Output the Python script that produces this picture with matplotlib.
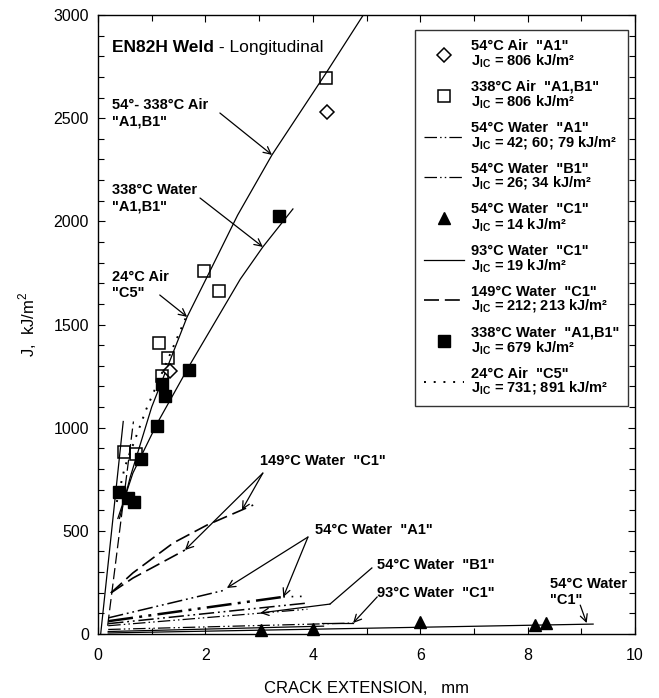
import matplotlib
matplotlib.use('Agg')
import matplotlib.pyplot as plt
from matplotlib.lines import Line2D
from matplotlib.ticker import MultipleLocator

plt.rcParams['font.family'] = 'Liberation Sans'
plt.rcParams['mathtext.fontset'] = 'custom'
plt.rcParams['mathtext.rm'] = 'Liberation Sans'
plt.rcParams['mathtext.bf'] = 'Liberation Sans:bold'

# ---- values ----
# symbols
air54_x = [1.34, 4.26]
air54_y = [1275, 2530]
air338_x = [0.48, 0.71, 1.14, 1.19, 1.30, 1.97, 2.25, 4.25]
air338_y = [882, 872, 1410, 1251, 1338, 1760, 1663, 2695]
water338_x = [0.39, 0.56, 0.67, 0.80, 1.10, 1.19, 1.25, 1.69, 3.37]
water338_y = [688, 659, 640, 848, 1008, 1212, 1154, 1280, 2026]
c1_54_x = [3.04, 4.00, 6.00, 8.14, 8.34]
c1_54_y = [19, 24, 58, 44, 53]

# fitted curves
air_fit_x = [0.40, 0.60, 1.00, 1.66, 2.03, 2.60, 3.24, 4.25, 4.94]
air_fit_y = [560, 760, 1100, 1537, 1730, 2030, 2322, 2720, 3000]
water_fit_x = [0.37, 0.65, 1.10, 1.70, 2.65, 3.07, 3.63]
water_fit_y = [560, 780, 1020, 1300, 1720, 1876, 2060]
c5_x = [0.35, 0.50, 0.90, 1.30, 1.68]
c5_y = [640, 810, 1090, 1330, 1560]
blunt_solid_x = [0.05, 0.47]
blunt_solid_y = [0, 1030]
blunt_dash_x = [0.18, 0.66]
blunt_dash_y = [40, 1030]
c1_149a_x = [0.24, 0.65, 1.40, 2.03, 2.89]
c1_149a_y = [199, 296, 441, 528, 625]
c1_149b_x = [0.24, 0.65, 1.10, 1.62]
c1_149b_y = [199, 271, 334, 407]
a1_54_1_x = [0.19, 2.37]
a1_54_1_y = [78, 213]
a1_54_2_x = [0.19, 3.45]
a1_54_2_y = [62, 180]
a1_54_2_tail_x = [3.45, 3.90]
a1_54_2_tail_y = [180, 183]
a1_54_3_x = [0.19, 3.90]
a1_54_3_y = [50, 150]
b1_54_1_x = [0.19, 3.90]
b1_54_1_y = [40, 120]
b1_54_2_x = [0.19, 4.75]
b1_54_2_y = [22, 53]
c1_93_x = [0.19, 4.20]
c1_93_y = [12, 38]
c1_54_fit_x = [0.19, 9.22]
c1_54_fit_y = [5, 48]

legend_labels = [
    '54°C Air  "A1"\nJ$_{\\mathbf{IC}}$ = 806 kJ/m²',
    '338°C Air  "A1,B1"\nJ$_{\\mathbf{IC}}$ = 806 kJ/m²',
    '54°C Water  "A1"\nJ$_{\\mathbf{IC}}$ = 42; 60; 79 kJ/m²',
    '54°C Water  "B1"\nJ$_{\\mathbf{IC}}$ = 26; 34 kJ/m²',
    '54°C Water  "C1"\nJ$_{\\mathbf{IC}}$ = 14 kJ/m²',
    '93°C Water  "C1"\nJ$_{\\mathbf{IC}}$ = 19 kJ/m²',
    '149°C Water  "C1"\nJ$_{\\mathbf{IC}}$ = 212; 213 kJ/m²',
    '338°C Water  "A1,B1"\nJ$_{\\mathbf{IC}}$ = 679 kJ/m²',
    '24°C Air  "C5"\nJ$_{\\mathbf{IC}}$ = 731; 891 kJ/m²',
]

ddot = (0, (10, 2.5, 1.2, 2.5, 1.2, 2.5))
dash = (0, (9, 3.5))
dots = (0, (1, 4))
lw = 0.9

fig = plt.figure(figsize=(6.59, 6.98), dpi=100)
ax = fig.add_axes([0.1487, 0.0917, 0.8149, 0.8868])

ax.plot(air_fit_x, air_fit_y, 'k-', lw=lw)
ax.plot(water_fit_x, water_fit_y, 'k-', lw=lw)
ax.plot(c5_x, c5_y, color='k', ls=dots, lw=1.4)
ax.plot(blunt_solid_x, blunt_solid_y, 'k-', lw=lw)
ax.plot(blunt_dash_x, blunt_dash_y, color='k', ls=dash, lw=lw)
ax.plot(c1_149a_x, c1_149a_y, color='k', ls=dash, lw=1.2)
ax.plot(c1_149b_x, c1_149b_y, color='k', ls=dash, lw=1.2)
ax.plot(a1_54_1_x, a1_54_1_y, color='k', ls=ddot, lw=1.1)
ax.plot(a1_54_2_x, a1_54_2_y, color='k', ls=ddot, lw=1.8)
ax.plot(a1_54_2_tail_x, a1_54_2_tail_y, color='k', ls=dots, lw=1.2)
ax.plot(a1_54_3_x, a1_54_3_y, color='k', ls=ddot, lw=1.1)
ax.plot(b1_54_1_x, b1_54_1_y, color='k', ls=ddot, lw=lw)
ax.plot(b1_54_2_x, b1_54_2_y, color='k', ls=ddot, lw=lw)
ax.plot(c1_93_x, c1_93_y, 'k-', lw=lw)
ax.plot(c1_54_fit_x, c1_54_fit_y, 'k-', lw=lw)

ax.plot(air54_x, air54_y, 'D', ms=7.5, mfc='white', mec='k', mew=1.1, zorder=5)
ax.plot(air338_x, air338_y, 's', ms=8.5, mfc='none', mec='k', mew=1.1, zorder=5)
ax.plot(water338_x, water338_y, 's', ms=8.5, mfc='k', mec='k', zorder=5)
ax.plot(c1_54_x, c1_54_y, '^', ms=9, mfc='k', mec='k', zorder=5, clip_on=False)

# legend
handles = [
    Line2D([], [], ls='none', marker='D', ms=7.5, mfc='white', mec='k', mew=1.1),
    Line2D([], [], ls='none', marker='s', ms=8.5, mfc='white', mec='k', mew=1.1),
    Line2D([], [], color='k', ls=ddot, lw=lw),
    Line2D([], [], color='k', ls=ddot, lw=lw),
    Line2D([], [], ls='none', marker='^', ms=9, mfc='k', mec='k'),
    Line2D([], [], color='k', ls='-', lw=lw),
    Line2D([], [], color='k', ls=dash, lw=1.2),
    Line2D([], [], ls='none', marker='s', ms=8.5, mfc='k', mec='k'),
    Line2D([], [], color='k', ls=dots, lw=1.4),
]
leg = ax.legend(handles, legend_labels, loc='upper right', bbox_to_anchor=(0.987, 0.976),
                borderaxespad=0, frameon=True, fancybox=False, edgecolor='k',
                prop={'size': 10.5, 'weight': 'bold'}, handlelength=2.75,
                handletextpad=0.45, borderpad=0.6, labelspacing=0.69)
leg.get_frame().set_linewidth(1.0)
for t in leg.get_texts():
    t.set_linespacing(0.95)

# annotations
af = dict(fontsize=10.5, fontweight='bold', ha='left', va='top')
ap = dict(arrowstyle='->', lw=0.9, color='k', shrinkA=0, shrinkB=0, mutation_scale=13)

title = ax.text(0.26, 2880, 'EN82H Weld', fontsize=12.5, fontweight='bold', ha='left', va='top')
ax.annotate(' - Longitudinal', xy=(1, 0), xycoords=title, fontsize=12.5, ha='left', va='bottom')

ax.text(0.26, 2598, '54°- 338°C Air\n"A1,B1"', **af)
ax.annotate('', xy=(3.24, 2322), xytext=(2.27, 2525), arrowprops=ap)

ax.text(0.26, 2186, '338°C Water\n"A1,B1"', **af)
ax.annotate('', xy=(3.07, 1876), xytext=(1.90, 2113), arrowprops=ap)

ax.text(0.26, 1764, '24°C Air\n"C5"', **af)
ax.annotate('', xy=(1.66, 1537), xytext=(1.15, 1643), arrowprops=ap)

ax.text(3.02, 870, '149°C Water  "C1"', **af)
ax.annotate('', xy=(2.68, 601), xytext=(3.07, 780), arrowprops=ap)
ax.annotate('', xy=(1.62, 407), xytext=(3.07, 780), arrowprops=ap)

ax.text(4.04, 540, '54°C Water  "A1"', **af)
ax.annotate('', xy=(2.40, 223), xytext=(3.91, 470), arrowprops=ap)
ax.annotate('', xy=(3.45, 179), xytext=(3.91, 470), arrowprops=ap)

ax.text(5.2, 370, '54°C Water  "B1"', **af)
ax.plot([5.10, 4.32], [320, 145], 'k-', lw=0.9)
ax.annotate('', xy=(3.02, 102), xytext=(4.32, 145), arrowprops=ap)

ax.text(5.2, 235, '93°C Water  "C1"', **af)
ax.plot([4.17, 4.75], [53, 53], 'k-', lw=0.9)
ax.annotate('', xy=(4.75, 53), xytext=(5.2, 180), arrowprops=ap)

ax.text(8.42, 276, '54°C Water\n"C1"', **af)
ax.annotate('', xy=(9.10, 53), xytext=(8.98, 140), arrowprops=ap)

ax.set_xlim(0, 10)
ax.set_ylim(0, 3000)
ax.xaxis.set_major_locator(MultipleLocator(2))
ax.xaxis.set_minor_locator(MultipleLocator(1))
ax.yaxis.set_major_locator(MultipleLocator(500))
ax.yaxis.set_minor_locator(MultipleLocator(100))
ax.tick_params(which='both', direction='in', top=True, right=True, width=0.8)
ax.tick_params(which='major', length=5)
ax.tick_params(which='minor', length=4)
ax.tick_params(axis='x', labelsize=11.5, pad=10)
ax.tick_params(axis='y', labelsize=11.5, pad=6.5)
for s in ax.spines.values():
    s.set_linewidth(1.0)

ax.set_xlabel('CRACK EXTENSION,   mm', fontsize=12)
ax.xaxis.set_label_coords(0.5, -0.076)
ax.set_ylabel('J,  kJ/m$^{2}$', fontsize=12)
ax.yaxis.set_label_coords(-0.11, 0.5)

fig.savefig('out.png', dpi=100)
